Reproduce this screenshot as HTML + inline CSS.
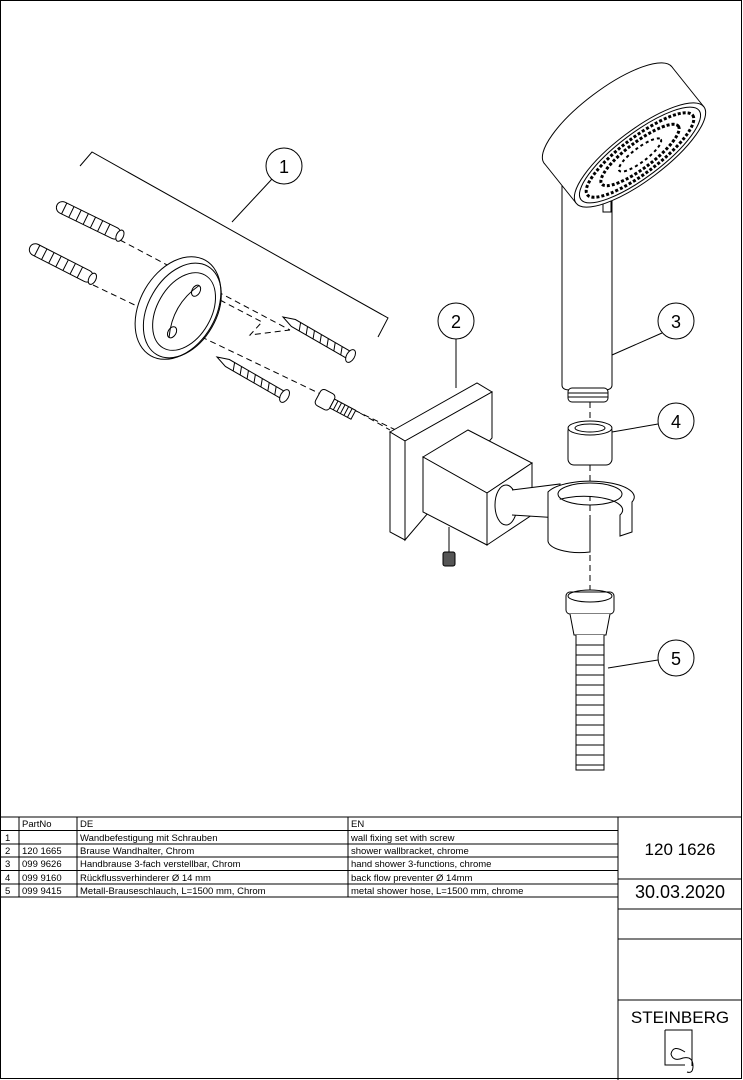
<!DOCTYPE html>
<html><head><meta charset="utf-8"><style>
body{margin:0;background:#fff}
svg{display:block}
text{font-family:"Liberation Sans",sans-serif;fill:#000}
</style></head><body>
<svg width="743" height="1080" viewBox="0 0 743 1080" xmlns="http://www.w3.org/2000/svg">
<rect x="0.5" y="0.5" width="741" height="1078" fill="#fff" stroke="#000" stroke-width="1"/>
<g fill="none" stroke="#000" stroke-width="1">
<polyline points="80,166 92,152 388,318 378,337"/>
<line x1="272" y1="179" x2="232" y2="222"/>
<circle cx="284" cy="166" r="18" fill="#fff"/>
<g stroke-dasharray="6,4">
<line x1="120" y1="240" x2="290" y2="330"/>
<polyline points="220,300 262,322 250,335 290,330"/>
<polyline points="93,285 400,432"/>
<line x1="360" y1="413" x2="390" y2="430"/>
<line x1="590" y1="402" x2="590" y2="425"/>
<line x1="590" y1="465" x2="590" y2="590"/>
</g>
<g transform="translate(57,205) rotate(26)">
<rect x="0" y="-6" width="70" height="12" rx="6" fill="#fff"/>
<ellipse cx="70" cy="0" rx="3.5" ry="6" fill="#fff"/>
<path d="M8,-6v12M16,-6v12M24,-6v12M32,-6v12M40,-6v12M48,-6v12M56,-6v12"/>
</g>
<g transform="translate(30,247) rotate(27)">
<rect x="0" y="-6" width="70" height="12" rx="6" fill="#fff"/>
<ellipse cx="70" cy="0" rx="3.5" ry="6" fill="#fff"/>
<path d="M8,-6v12M16,-6v12M24,-6v12M32,-6v12M40,-6v12M48,-6v12M56,-6v12"/>
</g>
<g transform="translate(178,308) rotate(30)">
<ellipse cx="0" cy="0" rx="38" ry="55" fill="#fff"/>
<ellipse cx="5" cy="0" rx="34" ry="51"/>
<ellipse cx="7" cy="0" rx="27" ry="42"/>
<path d="M7,-30 q-14,30 0,60"/>
<ellipse cx="7" cy="-24" rx="4" ry="6"/>
<ellipse cx="7" cy="24" rx="4" ry="6"/>
</g>
<g transform="translate(283,317) rotate(30)">
<path d="M0,0 L12,-4 L76,-4 L76,4 L12,4 Z" fill="#fff"/>
<ellipse cx="78" cy="0" rx="4" ry="7" fill="#fff"/>
<path d="M18,-4l3,8M26,-4l3,8M34,-4l3,8M42,-4l3,8M50,-4l3,8M58,-4l3,8M66,-4l3,8"/>
</g>
<g transform="translate(217,357) rotate(30)">
<path d="M0,0 L12,-4 L76,-4 L76,4 L12,4 Z" fill="#fff"/>
<ellipse cx="78" cy="0" rx="4" ry="7" fill="#fff"/>
<path d="M18,-4l3,8M26,-4l3,8M34,-4l3,8M42,-4l3,8M50,-4l3,8M58,-4l3,8M66,-4l3,8"/>
</g>
<g transform="translate(318,396) rotate(28)">
<rect x="0" y="-9" width="16" height="18" rx="4" fill="#fff"/>
<rect x="16" y="-5" width="24" height="10" fill="#fff"/>
<path d="M20,-5v10M24,-5v10M28,-5v10M32,-5v10M36,-5v10"/>
</g>
<line x1="456" y1="339" x2="456" y2="388"/>
<circle cx="456" cy="321" r="18" fill="#fff"/>
<polygon points="390,432 477,383 492,392 405,441" fill="#fff"/>
<polygon points="390,432 405,441 405,540 390,532" fill="#fff"/>
<polygon points="405,441 492,392 492,438 405,540" fill="#fff"/>
<polygon points="423,457 468,430 532,463 487,493" fill="#fff"/>
<polygon points="423,457 487,493 487,545 423,512" fill="#fff"/>
<polygon points="487,493 532,463 532,515 487,545" fill="#fff"/>
<line x1="449" y1="527" x2="449" y2="553"/>
<rect x="443" y="552" width="12" height="14" rx="2" fill="#555"/>
<ellipse cx="506" cy="505" rx="11" ry="20" fill="#fff"/>
<path d="M512,490 L560,484 L560,518 L512,515" fill="#fff"/>
<path d="M548,492 A42 15 0 0 1 632,502 L632,532 L620,536 L620,515 A34 12 0 0 0 548,505 Z" fill="#fff"/>
<path d="M548,492 L548,540 A32 12 0 0 0 590,552 L590,518" fill="#fff"/>
<ellipse cx="590" cy="494" rx="32" ry="11"/>
<!-- hand shower -->
<path d="M562,180 L562,385 Q562,390 570,390 L604,390 Q612,390 612,385 L612,180" fill="#fff"/>
<rect x="568" y="388" width="40" height="14" rx="4" fill="#fff"/>
<path d="M568,393h40M568,397h40"/>
<ellipse cx="608" cy="115" rx="80" ry="25" transform="rotate(-37 608 115)" fill="#fff"/>
<polygon points="544,163 672,67 704,107 576,203" fill="#fff" stroke="none"/>
<line x1="544" y1="163" x2="576" y2="203"/>
<line x1="672" y1="67" x2="704" y2="107"/>
<rect x="603" y="196" width="8" height="16" fill="#fff"/>
<g transform="translate(640,155) rotate(-37)">
<ellipse cx="0" cy="0" rx="80" ry="25" fill="#fff"/>
<ellipse cx="0" cy="0" rx="74" ry="22"/>
<ellipse cx="0" cy="0" rx="66" ry="18" stroke-dasharray="3,2" stroke-width="3"/>
<ellipse cx="0" cy="0" rx="48" ry="13" stroke-dasharray="3,2" stroke-width="3"/>
<ellipse cx="0" cy="0" rx="26" ry="7" stroke-dasharray="3,3" stroke-width="2"/>
</g>
<line x1="612" y1="355" x2="662" y2="333"/>
<circle cx="676" cy="321" r="18" fill="#fff"/>
<rect x="568" y="425" width="44" height="40" rx="6" fill="#fff"/>
<ellipse cx="590" cy="428" rx="22" ry="7" fill="#fff"/>
<ellipse cx="590" cy="428" rx="15" ry="4"/>
<line x1="612" y1="432" x2="658" y2="424"/>
<circle cx="676" cy="421" r="18" fill="#fff"/>
<rect x="566" y="592" width="48" height="22" rx="4" fill="#fff"/>
<ellipse cx="590" cy="596" rx="22" ry="6"/>
<path d="M570,614 L574,635 L606,635 L610,614" fill="#fff"/>
<path d="M576,635 L576,770 L604,770 L604,635" fill="#fff"/>
<path d="M576,645h28M576,655h28M576,665h28M576,675h28M576,685h28M576,695h28M576,705h28M576,715h28M576,725h28M576,735h28M576,745h28M576,755h28M576,765h28"/>
<line x1="608" y1="668" x2="658" y2="660"/>
<circle cx="676" cy="658" r="18" fill="#fff"/>
</g>
<g font-size="18" text-anchor="middle">
<text x="284" y="173">1</text><text x="456" y="328">2</text><text x="676" y="328">3</text><text x="676" y="428">4</text><text x="676" y="665">5</text>
</g>
<g stroke="#000" stroke-width="1" fill="none">
<line x1="0" y1="817" x2="742" y2="817"/>
<line x1="0" y1="830.5" x2="618" y2="830.5"/>
<line x1="0" y1="844" x2="618" y2="844"/>
<line x1="0" y1="857" x2="618" y2="857"/>
<line x1="0" y1="870.5" x2="618" y2="870.5"/>
<line x1="0" y1="884" x2="618" y2="884"/>
<line x1="0" y1="897" x2="618" y2="897"/>
<line x1="19" y1="817" x2="19" y2="897"/>
<line x1="77" y1="817" x2="77" y2="897"/>
<line x1="348" y1="817" x2="348" y2="897"/>
<line x1="618" y1="817" x2="618" y2="1080"/>
<line x1="618" y1="879" x2="742" y2="879"/>
<line x1="618" y1="909" x2="742" y2="909"/>
<line x1="618" y1="939" x2="742" y2="939"/>
<line x1="618" y1="1000" x2="742" y2="1000"/>
<path d="M665,1030 h27 v36 M665,1030 v35 h20 M685,1052 q-12,-8 -14,2 q2,8 12,4 q10,-2 10,8 q0,8 -6,6"/>
</g>
<g font-size="9.5">
<text x="22" y="827">PartNo</text><text x="80" y="827">DE</text><text x="351" y="827">EN</text>
<text x="5" y="841">1</text><text x="80" y="841">Wandbefestigung mit Schrauben</text><text x="351" y="841">wall fixing set with screw</text>
<text x="5" y="854">2</text><text x="22" y="854">120 1665</text><text x="80" y="854">Brause Wandhalter, Chrom</text><text x="351" y="854">shower wallbracket, chrome</text>
<text x="5" y="867">3</text><text x="22" y="867">099 9626</text><text x="80" y="867">Handbrause 3-fach verstellbar, Chrom</text><text x="351" y="867">hand shower 3-functions, chrome</text>
<text x="5" y="881">4</text><text x="22" y="881">099 9160</text><text x="80" y="881">Rückflussverhinderer  Ø 14 mm</text><text x="351" y="881">back flow preventer Ø 14mm</text>
<text x="5" y="894">5</text><text x="22" y="894">099 9415</text><text x="80" y="894">Metall-Brauseschlauch, L=1500 mm, Chrom</text><text x="351" y="894">metal shower hose, L=1500 mm, chrome</text>
</g>
<g text-anchor="middle">
<text x="680" y="855" font-size="17">120 1626</text>
<text x="680" y="898" font-size="18">30.03.2020</text>
<text x="680" y="1023" font-size="17">STEINBERG</text>
</g>
</svg>
</body></html>
